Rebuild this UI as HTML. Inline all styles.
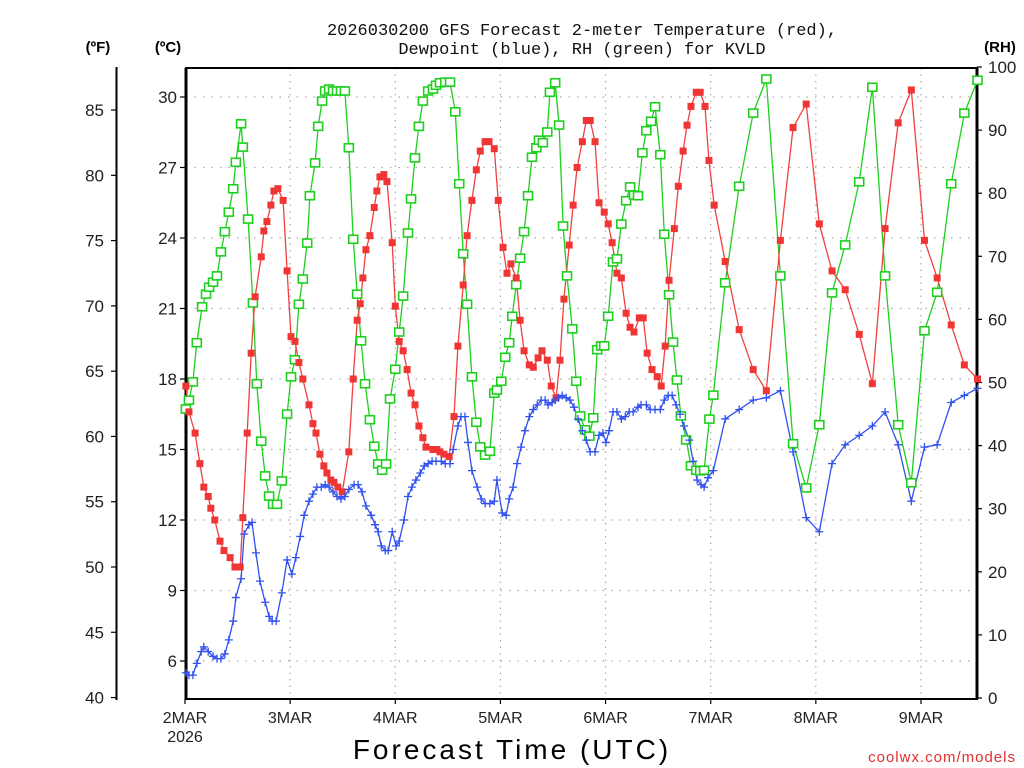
<!DOCTYPE html>
<html><head><meta charset="utf-8"><style>
body{margin:0;background:#fff;}
svg{display:block;font-family:"Liberation Sans","DejaVu Sans",sans-serif;}
</style></head><body>
<svg id="chart" width="1024" height="768" viewBox="0 0 1024 768" xmlns="http://www.w3.org/2000/svg">
<rect width="1024" height="768" fill="#fff"/>
<text x="582" y="35" text-anchor="middle" font-size="17" fill="#111" font-family="Liberation Mono, monospace">2026030200 GFS Forecast 2-meter Temperature (red),</text>
<text x="582" y="54" text-anchor="middle" font-size="17" fill="#111" font-family="Liberation Mono, monospace">Dewpoint (blue), RH (green) for KVLD</text>
<text x="98" y="52" text-anchor="middle" font-size="15" font-weight="bold">(ºF)</text>
<text x="168" y="52" text-anchor="middle" font-size="15" font-weight="bold">(ºC)</text>
<text x="1000" y="52" text-anchor="middle" font-size="15" font-weight="bold">(RH)</text>
<text x="512" y="759" text-anchor="middle" font-size="28" letter-spacing="3">Forecast Time (UTC)</text>
<text x="1016" y="762" text-anchor="end" font-size="15" fill="#e03030" letter-spacing="1">coolwx.com/models</text>
<g id="grid"></g><g id="axes"></g><g id="series"></g>
</svg>
<script>
const celsiusTicks=[6,9,12,15,18,21,24,27,30];
const fahrenheitTicks=[40,45,50,55,60,65,70,75,80,85];
const rhTicks=[0,10,20,30,40,50,60,70,80,90,100];
const dayLabels=["2MAR","3MAR","4MAR","5MAR","6MAR","7MAR","8MAR","9MAR"];
const tempHours=[0.2,0.9,2.3,3.4,4.3,5.3,5.9,6.8,8.0,8.9,10.3,11.4,12.6,13.2,14.2,15.1,16.0,17.4,18.0,18.7,19.6,20.3,21.2,22.4,23.3,24.2,25.1,26.0,26.9,28.3,29.2,29.9,30.8,31.7,32.4,33.3,34.0,34.9,35.9,37.4,38.4,39.3,40.0,40.6,41.3,42.2,43.2,43.8,44.5,45.4,46.1,47.3,48.0,48.9,49.8,50.7,51.6,52.5,53.4,54.3,55.0,56.6,57.5,58.2,59.1,60.3,61.4,62.3,63.5,64.4,65.5,66.5,67.4,68.5,69.4,70.6,71.5,72.6,73.5,74.4,75.6,76.5,77.4,78.6,79.5,80.6,81.5,82.7,83.6,84.7,85.6,86.5,87.7,88.6,89.5,90.7,91.6,92.5,93.6,94.5,95.7,96.6,97.5,98.6,99.6,100.7,101.6,102.5,103.7,104.6,105.5,106.6,107.8,108.7,109.6,110.5,111.7,112.6,113.7,114.6,115.5,116.7,117.6,118.7,119.6,120.8,123.3,126.5,129.7,132.7,135.9,138.8,141.8,144.8,147.7,150.7,153.9,156.9,159.8,162.8,165.8,168.8,171.7,174.9,177.9,180.9];
const tempC=[17.7,16.6,15.7,14.4,13.4,13.0,12.5,12.0,11.1,10.7,10.4,10.0,10.0,12.1,15.7,19.1,21.5,23.2,24.3,24.7,25.4,26.0,26.1,25.6,22.6,19.8,19.6,18.7,18.0,16.9,16.1,15.7,14.8,14.3,14.0,13.7,13.6,13.4,13.2,14.9,18.0,20.5,21.2,22.3,23.5,24.1,25.3,26.0,26.6,26.7,26.4,23.8,21.1,19.6,19.2,18.4,17.4,16.9,16.0,15.5,15.1,15.0,15.0,14.9,14.8,14.7,16.4,19.4,22.0,24.1,25.6,26.9,27.7,28.1,28.1,27.8,25.6,23.6,22.5,22.9,22.3,20.5,19.2,18.6,18.5,18.9,19.2,18.8,17.7,17.2,18.8,21.4,23.7,25.4,27.0,28.1,29.0,29.0,28.1,25.5,25.1,24.6,23.8,22.5,22.3,20.8,20.2,20.0,20.6,20.6,19.1,18.4,18.1,17.7,19.4,22.2,24.4,26.2,27.7,28.8,29.6,30.2,30.2,29.6,27.3,25.4,23.0,20.1,18.4,17.5,23.9,28.7,29.7,24.6,22.6,21.8,19.9,17.8,24.4,28.9,30.3,23.9,22.3,20.3,18.6,18.0];
const dewHours=[0.2,0.9,1.8,2.7,3.7,4.3,5.3,6.4,7.3,8.2,9.1,10.0,11.0,11.6,12.8,13.5,14.6,15.3,16.2,17.1,18.3,19.2,19.9,20.8,22.1,23.3,24.4,25.3,26.3,27.2,28.3,29.2,30.1,31.1,32.0,32.9,33.8,34.7,35.6,36.5,37.4,38.6,39.5,40.4,41.3,42.5,43.4,44.1,44.8,45.7,46.4,47.3,48.2,48.9,50.0,50.9,51.8,52.7,53.7,54.6,55.5,56.4,57.3,58.5,59.4,60.5,61.2,62.3,63.0,63.9,64.6,65.5,66.7,67.6,68.5,69.6,70.6,71.2,72.4,73.3,74.0,74.9,75.8,76.7,77.6,78.6,79.5,80.4,81.3,82.2,82.9,83.8,84.5,85.2,86.1,87.0,87.9,88.8,89.7,90.7,91.6,92.5,93.6,94.5,95.4,96.1,96.8,97.7,98.6,99.6,100.5,101.4,102.3,103.4,104.1,105.3,106.2,107.3,108.5,109.4,110.3,111.2,112.1,113.0,113.9,115.1,116.0,116.9,117.8,118.5,119.4,120.6,123.3,126.5,129.7,132.7,135.9,138.8,141.8,144.8,147.7,150.7,153.9,156.9,159.8,162.8,165.8,168.8,171.7,174.9,177.9,180.9];
const dewC=[5.5,5.4,5.4,5.9,6.4,6.6,6.4,6.2,6.1,6.1,6.3,6.9,7.7,8.7,9.5,11.4,11.8,11.9,10.6,9.4,8.5,7.9,7.7,7.7,8.9,10.3,9.7,10.4,11.3,12.2,12.8,13.1,13.4,13.4,13.5,13.4,13.2,13.0,12.9,13.0,13.3,13.5,13.5,13.2,12.6,12.2,11.8,11.5,10.9,10.7,10.7,11.5,10.9,11.1,12.0,13.0,13.4,13.7,14.0,14.3,14.4,14.5,14.5,14.5,14.4,14.4,15.0,16.0,16.4,16.4,15.3,14.1,13.4,12.9,12.7,12.7,12.8,13.7,12.3,12.2,12.9,13.4,14.4,15.1,15.8,16.4,16.7,16.9,17.1,17.1,16.9,17.0,17.1,17.2,17.3,17.2,17.1,16.8,16.3,15.8,15.4,14.9,14.9,15.6,15.7,15.3,15.8,16.6,16.6,16.3,16.4,16.6,16.6,16.8,16.9,16.9,16.7,16.7,16.7,17.1,17.3,17.3,16.9,16.5,16.0,15.4,14.5,13.7,13.5,13.4,13.8,14.1,16.3,16.7,17.1,17.2,17.5,14.9,12.1,11.5,14.4,15.2,15.6,16.0,16.6,15.2,12.8,15.1,15.2,17.0,17.3,17.6];
const rhHours=[0.2,0.9,1.8,2.7,3.9,4.8,5.5,6.4,7.3,8.2,9.1,10.0,11.0,11.6,12.8,13.2,14.4,15.5,16.4,17.4,18.3,19.2,20.1,21.0,22.1,23.3,24.2,25.1,26.0,26.9,27.9,28.5,29.7,30.4,31.3,32.0,32.9,33.8,34.7,35.6,36.5,37.4,38.4,39.3,40.2,41.1,42.2,43.2,44.1,45.0,45.9,46.8,48.0,48.9,49.8,50.9,51.6,52.5,53.4,54.3,55.5,56.6,57.3,58.2,59.4,60.5,61.7,62.6,63.5,64.4,65.5,66.5,67.4,68.5,69.6,70.6,71.2,72.2,73.1,74.0,74.7,75.6,76.5,77.4,78.3,79.2,80.2,80.8,81.7,82.7,83.3,84.5,85.4,86.3,87.2,88.4,89.3,90.2,91.3,92.3,93.2,94.1,95.0,95.7,96.6,97.7,98.6,99.6,100.7,101.6,102.5,103.4,104.4,105.3,106.4,107.3,108.5,109.4,110.5,111.4,112.3,113.2,114.4,115.5,116.7,117.6,118.5,119.7,120.6,123.3,126.5,129.7,132.7,135.9,138.8,141.8,144.8,147.7,150.7,153.9,156.9,159.8,162.8,165.8,168.8,171.7,174.9,177.9,180.9];
const rhPct=[45.8,47.2,50.1,56.3,62.0,64.0,65.1,65.9,66.9,70.7,73.9,77.0,80.7,84.9,91.0,87.3,75.9,62.6,49.8,40.7,35.2,32.0,30.7,30.7,34.4,45.0,50.9,53.6,62.4,66.4,72.1,79.6,84.8,90.6,94.6,96.2,96.5,96.2,96.2,96.2,96.2,87.2,72.7,64.0,56.6,49.8,44.1,39.9,37.1,36.1,37.1,47.4,52.1,58.0,63.7,73.7,79.1,85.6,90.6,94.6,96.2,96.5,97.1,97.5,97.6,97.6,92.9,81.5,70.4,62.4,50.9,43.7,39.8,38.5,39.1,48.3,48.8,50.2,54.0,56.3,60.5,65.5,69.7,73.9,79.6,85.7,87.2,88.4,88.0,89.7,96.0,97.5,90.8,74.8,66.9,58.5,50.2,44.7,42.5,41.5,44.4,55.2,55.8,55.8,60.5,69.1,69.6,75.1,78.8,81.0,79.7,79.6,86.4,89.9,91.4,93.7,86.1,73.5,63.9,56.4,50.4,44.7,40.9,36.8,36.1,36.0,36.1,44.2,48.0,65.8,81.1,92.7,98.1,66.9,40.3,33.3,43.3,64.2,71.8,81.8,96.8,66.9,43.3,34.1,58.2,64.3,81.5,92.7,97.9];

const NS="http://www.w3.org/2000/svg";
const L=186,R=977,T=68,B=699;
const pxPerHour=105.14/24;
function xs(h){return 185+h*pxPerHour;}
function yC(c){return 802-c*23.5;}
function yF(f){return yC((f-32)*5/9);}
function yRH(r){return 698-r*6.31;}
function mk(tag,attrs,parent){const e=document.createElementNS(NS,tag);for(const k in attrs)e.setAttribute(k,attrs[k]);parent.appendChild(e);return e;}
const grid=document.getElementById('grid'),axes=document.getElementById('axes'),ser=document.getElementById('series');

celsiusTicks.forEach(c=>{const y=yC(c);
 const g=mk('line',{x1:L,x2:R,y1:y,y2:y,stroke:'#aaa','stroke-width':1.2,'stroke-dasharray':'1.5,7'},grid);
 
 
 mk('line',{x1:180,x2:L,y1:y,y2:y,stroke:'#000','stroke-width':1.2},axes);
 const t=mk('text',{x:177,y:y+6,'text-anchor':'end','font-size':17,fill:'#222'},axes);t.textContent=c;
 
 
});
dayLabels.forEach((d,i)=>{const x=xs(i*24);
 if(i>0){const g=mk('line',{x1:x,x2:x,y1:T,y2:B,stroke:'#aaa','stroke-width':1.2,'stroke-dasharray':'1.5,5'},grid);
 
 }
 mk('line',{x1:x,x2:x,y1:B,y2:B+5,stroke:'#000','stroke-width':1.2},axes);
 const t=mk('text',{x:x,y:723,'text-anchor':'middle','font-size':16,fill:'#222'},axes);t.textContent=d;
 
 
});
const yr=mk('text',{x:xs(0),y:742,'text-anchor':'middle','font-size':16,fill:'#222'},axes);yr.textContent='2026';


fahrenheitTicks.forEach(f=>{const y=yF(f);
 mk('line',{x1:111,x2:117,y1:y,y2:y,stroke:'#000','stroke-width':1.2},axes);
 const t=mk('text',{x:104,y:y+6,'text-anchor':'end','font-size':17,fill:'#222'},axes);t.textContent=f;
 
 
});
rhTicks.forEach(r=>{const y=yRH(r);
 mk('line',{x1:R,x2:R+5,y1:y,y2:y,stroke:'#000','stroke-width':1.2},axes);
 const t=mk('text',{x:988,y:y+6,'text-anchor':'start','font-size':17,fill:'#222'},axes);t.textContent=r;
 
 
});
mk('line',{x1:116.5,x2:116.5,y1:67,y2:700,stroke:'#000','stroke-width':2},axes);
mk('rect',{x:L,y:T,width:R-L,height:B-T,fill:'none',stroke:'#000','stroke-width':2},axes);
mk('line',{x1:L,x2:L,y1:T,y2:B,stroke:'#000','stroke-width':3},axes);
mk('line',{x1:R,x2:R,y1:T,y2:B,stroke:'#000','stroke-width':3},axes);

function line(hs,vs,yf,color,name){
 const pts=hs.map((h,i)=>xs(h).toFixed(1)+','+yf(vs[i]).toFixed(1)).join(' ');
 const p=mk('polyline',{points:pts,fill:'none',stroke:color,'stroke-width':1.3},ser);
 
 
}
line(rhHours,rhPct,yRH,'#1ed01e','rh-line');
line(tempHours,tempC,yC,'#f04040','temperature-line');
line(dewHours,dewC,yC,'#3050f0','dewpoint-line');
rhHours.forEach((h,i)=>{const r=mk('rect',{x:xs(h)-4.5,y:yRH(rhPct[i])-4,width:9,height:8,fill:'#fff',stroke:'#1ed01e','stroke-width':1.6},ser);
 
 });
tempHours.forEach((h,i)=>{const r=mk('rect',{x:xs(h)-3.5,y:yC(tempC[i])-3.5,width:7,height:7,fill:'#f03535'},ser);
 
 });
dewHours.forEach((h,i)=>{const x=xs(h),y=yC(dewC[i]);
 const p=mk('path',{d:`M${x-4},${y}H${x+4}M${x},${y-4}V${y+4}`,stroke:'#3050f0','stroke-width':1.3,fill:'none'},ser);
 
 });
</script>
</body></html>
